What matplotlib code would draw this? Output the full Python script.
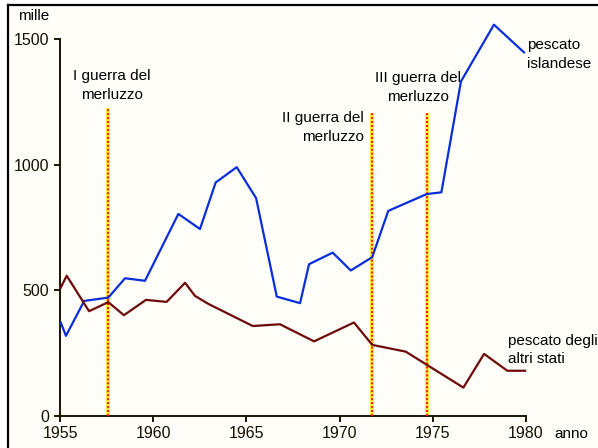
import numpy as np
import matplotlib.pyplot as plt
from matplotlib.lines import Line2D

plt.rcParams['font.family'] = ['Liberation Sans', 'DejaVu Sans']

# pescato islandese (migliaia di tonnellate)
anni_isl = [1955.04, 1955.32, 1956.30, 1957.59, 1958.49, 1959.56, 1961.35, 1962.51,
            1963.35, 1964.48, 1965.52, 1966.63, 1967.88, 1968.36, 1969.63, 1970.60,
            1971.75, 1972.61, 1974.67, 1975.46, 1976.51, 1978.28, 1979.89]
pescato_isl = [372, 319, 458, 471, 548, 538, 804, 744,
               929, 990, 867, 475, 449, 604, 650, 579,
               632, 816, 883, 890, 1331, 1557, 1447]

# pescato degli altri stati
anni_altri = [1955.04, 1955.36, 1956.56, 1957.59, 1958.43, 1959.61, 1960.72, 1961.71,
              1962.24, 1962.96, 1965.34, 1966.80, 1968.63, 1970.77, 1971.75, 1973.55,
              1976.64, 1977.75, 1979.0, 1979.95]
pescato_altri = [511, 558, 417, 453, 401, 462, 454, 530,
                 478, 446, 358, 365, 297, 372, 283, 256,
                 113, 247, 180, 180]

# guerre del merluzzo
guerre_anni = [1957.6, 1971.74, 1974.69]
guerre_top = [1227, 1207, 1207]
guerre_lab = ["I guerra del\nmerluzzo", "II guerra del\nmerluzzo", "III guerra del\nmerluzzo"]

x_ticks = [1955, 1960, 1965, 1970, 1975, 1980]
y_ticks = [0, 500, 1000, 1500]

W, H = 598, 448
fig = plt.figure(figsize=(W / 100, H / 100), dpi=100)
fig.patch.set_facecolor('white')
ax = fig.add_axes([60 / W, 32 / H, 466 / W, 377 / H])
ax.set_facecolor('#fffef8')
bg = plt.Rectangle((8 / W, -0.1), 1.2, 1.1 - 5 / H, transform=fig.transFigure,
                   facecolor='#fffef8', edgecolor='none', zorder=-10)
fig.patches.append(bg)
# cornice
fig.add_artist(Line2D([8 / W, 8 / W], [-0.1, 1 - 5 / H], color='black', lw=1.6))
fig.add_artist(Line2D([8 / W, 1.1], [1 - 5 / H, 1 - 5 / H], color='black', lw=1.6))

ax.set_xlim(1955, 1980)
ax.set_ylim(0, 1500)
for s in ['top', 'right']:
    ax.spines[s].set_visible(False)
for s in ['left', 'bottom']:
    ax.spines[s].set_color('#1a1400')
    ax.spines[s].set_linewidth(1.4)
ax.set_xticks(x_ticks)
ax.set_yticks(y_ticks)
ax.tick_params(direction='out', length=4, width=1.4, color='#1a1400',
               labelsize=11.5, labelcolor='#140f00')
ax.tick_params(axis='x', pad=3)
ax.tick_params(axis='y', pad=4)

for xg, top in zip(guerre_anni, guerre_top):
    ax.plot([xg, xg], [0, top], color='#ffee44', lw=3.0, solid_capstyle='butt', zorder=2)
    ax.plot([xg, xg], [0, top], color='#ff2200', lw=1.5, linestyle=(0, (1, 0.9)), zorder=3)

ax.plot(anni_isl, pescato_isl, color='#0a2edc', lw=1.6, clip_on=False, zorder=4)
ax.plot(anni_altri, pescato_altri, color='#6e0a0a', lw=1.6, clip_on=False, zorder=4)

fs = 11
ls = 1.4
ax.text(1957.79, 1262, guerre_lab[0], ha='center', va='baseline', fontsize=fs,
        linespacing=ls, multialignment='center')
ax.text(1971.31, 1095, guerre_lab[1], ha='right', va='baseline', fontsize=fs,
        linespacing=ls, multialignment='right')
ax.text(1974.23, 1254, guerre_lab[2], ha='center', va='baseline', fontsize=fs,
        linespacing=ls, multialignment='center')
ax.text(1980.07, 1386, "pescato\nislandese", ha='left', va='baseline', fontsize=fs,
        linespacing=ls)
ax.text(1979.05, 211, "pescato degli\naltri stati", ha='left', va='baseline', fontsize=fs,
        linespacing=ls, clip_on=False)

fig.text(18 / W, 1 - 16 / H, "mille", ha='left', va='center', fontsize=fs)
fig.text(554 / W, 1 - 438 / H, "anno", ha='left', va='baseline', fontsize=fs)

fig.savefig('out.png', dpi=100)
